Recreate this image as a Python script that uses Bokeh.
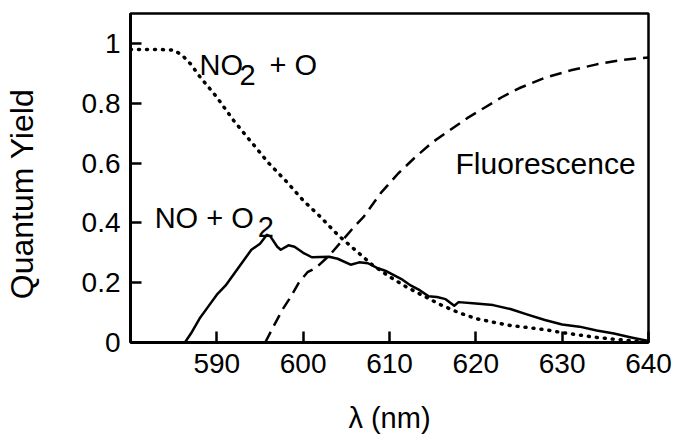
from bokeh.plotting import figure
from bokeh.models import Range1d, Label, FixedTicker
from bokeh.embed import file_html
from bokeh.resources import INLINE

# ---- data ----
no2_o_x = [580, 583, 585, 586, 587, 588, 590, 592, 594, 596, 598, 600, 602, 604, 606, 608,
           610, 612, 614, 616, 618, 620, 622, 624, 626, 628, 630, 632, 634, 636, 638, 640]
no2_o_y = [0.98, 0.98, 0.978, 0.96, 0.93, 0.89, 0.82, 0.74, 0.67, 0.60, 0.54, 0.475, 0.42, 0.36, 0.31, 0.26,
           0.22, 0.185, 0.155, 0.125, 0.10, 0.08, 0.068, 0.057, 0.05, 0.043, 0.033, 0.025, 0.017, 0.011, 0.006, 0.0]

no_o2_x = [586.3, 587, 588, 589, 590, 591, 592, 593, 594, 595, 595.8, 596.2, 597, 597.4, 598.3, 599,
           600, 601, 603, 604, 605.5, 606.5, 607.5, 608.5, 609.5, 610.5, 611.5, 612.5, 613.5, 614.5,
           615.5, 616.5, 617.5, 618, 620, 622, 624, 626, 628, 630, 632, 634, 636, 638, 640]
no_o2_y = [0.0, 0.03, 0.08, 0.12, 0.16, 0.19, 0.23, 0.27, 0.31, 0.33, 0.36, 0.355, 0.32, 0.31, 0.325, 0.32,
           0.30, 0.285, 0.287, 0.28, 0.26, 0.268, 0.265, 0.25, 0.24, 0.225, 0.21, 0.19, 0.175, 0.155,
           0.152, 0.145, 0.123, 0.135, 0.13, 0.125, 0.112, 0.093, 0.075, 0.06, 0.053, 0.04, 0.03, 0.017, 0.005]

fluor_x = [595.6, 596.5, 597.6, 598.5, 599.5, 600.5, 601.5, 603, 604.5, 606, 607, 609, 611, 613, 615,
           617, 619, 621, 623, 625, 628, 631, 634, 637, 640]
fluor_y = [0.0, 0.05, 0.11, 0.15, 0.2, 0.235, 0.25, 0.29, 0.34, 0.39, 0.42, 0.5, 0.565, 0.62, 0.67,
           0.71, 0.75, 0.785, 0.82, 0.85, 0.885, 0.91, 0.93, 0.945, 0.953]

x_ticks = [590, 600, 610, 620, 630, 640]
y_ticks = [0, 0.2, 0.4, 0.6, 0.8, 1.0]
y_tick_labels = ["0", "0.2", "0.4", "0.6", "0.8", "1"]

FONT = "Liberation Sans"

p = figure(width=676, height=436, output_backend="svg", toolbar_location=None,
           x_range=Range1d(580, 640), y_range=Range1d(0, 1.1),
           min_border_left=128, min_border_right=28, min_border_top=13, min_border_bottom=93)

p.background_fill_color = "white"
p.border_fill_color = "white"
p.xgrid.visible = False
p.ygrid.visible = False
p.outline_line_color = "black"
p.outline_line_width = 2.5
p.outline_line_alpha = 1.0

p.line(no2_o_x, no2_o_y, line_color="black", line_width=3.5, line_dash="1 7", line_cap="round")
p.line(no_o2_x, no_o2_y, line_color="black", line_width=2.5, line_join="round")
p.line(fluor_x, fluor_y, line_color="black", line_width=2.5, line_dash="12 7")

for ax in (p.xaxis[0], p.yaxis[0]):
    ax.axis_line_color = "black"
    ax.axis_line_width = 3
    ax.major_tick_line_color = "black"
    ax.major_tick_line_width = 2.5
    ax.major_tick_in = 11
    ax.major_tick_out = 0
    ax.minor_tick_line_color = None
    ax.major_label_text_font = FONT
    ax.major_label_text_font_size = "28px"
    ax.major_label_text_color = "black"
    ax.axis_label_text_font = FONT
    ax.axis_label_text_font_style = "normal"
    ax.axis_label_text_color = "black"

p.xaxis.major_label_standoff = 11
p.yaxis.major_label_standoff = 10
p.xaxis.ticker = FixedTicker(ticks=x_ticks)
p.yaxis.ticker = FixedTicker(ticks=y_ticks)
p.yaxis.major_label_overrides = {t: s for t, s in zip(y_ticks, y_tick_labels)}

p.xaxis.axis_label = "λ (nm)"
p.xaxis.axis_label_text_font_size = "29px"
p.xaxis.axis_label_standoff = 26

# trailing en-spaces shift the centred title a little toward the bottom, as in the original
p.yaxis.axis_label = "Quantum Yield\u2002\u2002"
p.yaxis.axis_label_text_font_size = "32px"
p.yaxis.axis_label_standoff = 39

def lab(x, y, text, dx=0, dy=0, size="29px"):
    p.add_layout(Label(x=x, y=y, text=text, x_offset=dx, y_offset=dy,
                       text_font=FONT, text_font_size=size, text_color="black",
                       text_baseline="alphabetic", text_align="left"))

# NO2 + O
lab(588.0, 0.927, "NO")
lab(588.0, 0.927, "2", 40, -10)
lab(588.0, 0.927, "+ O", 70)
# NO + O2
lab(582.8, 0.417, "NO + O")
lab(582.8, 0.417, "2", 103, -9)
# Fluorescence
lab(617.65, 0.6, "Fluorescence", size="30px")

open("out.html", "w").write(file_html(p, INLINE))
